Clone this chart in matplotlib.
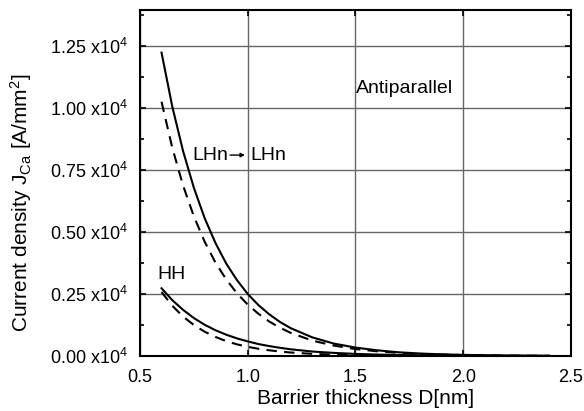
import matplotlib
matplotlib.use("Agg")
import matplotlib.pyplot as plt
from matplotlib.ticker import MultipleLocator, FuncFormatter

plt.rcParams['font.family'] = ['Liberation Sans', 'DejaVu Sans']
plt.rcParams['mathtext.fontset'] = 'custom'
plt.rcParams['mathtext.rm'] = 'Liberation Sans'
plt.rcParams['mathtext.it'] = 'Liberation Sans'
plt.rcParams['mathtext.default'] = 'regular'

# barrier thickness (nm)
D = [0.60, 0.65, 0.70, 0.75, 0.80, 0.85, 0.90, 0.95, 1.00, 1.05, 1.10, 1.15,
     1.20, 1.30, 1.40, 1.50, 1.60, 1.70, 1.80, 1.90, 2.00, 2.10, 2.20, 2.30, 2.40]

# current density in units of 1e4 A/mm^2
lhn_solid = [1.223, 1.005, 0.826, 0.678, 0.556, 0.456, 0.373, 0.306, 0.25, 0.205, 0.168, 0.137,
             0.112, 0.075, 0.050, 0.034, 0.023, 0.015, 0.010, 0.0068, 0.0046, 0.0031, 0.0021, 0.0014, 0.0009]
lhn_dash = [1.025, 0.839, 0.687, 0.563, 0.461, 0.377, 0.309, 0.253, 0.207, 0.170, 0.139, 0.114,
            0.093, 0.062, 0.042, 0.028, 0.019, 0.0126, 0.0085, 0.0057, 0.0038, 0.0025, 0.0017, 0.0011, 0.0008]
hh_solid = [0.273, 0.225, 0.186, 0.153, 0.126, 0.104, 0.086, 0.071, 0.059, 0.048, 0.040, 0.033,
            0.027, 0.018, 0.0125, 0.0085, 0.0058, 0.004, 0.0027, 0.0018, 0.0012, 0.0008, 0.0006, 0.0004, 0.0003]
hh_dash = [0.258, 0.2025, 0.159, 0.125, 0.098, 0.077, 0.060, 0.047, 0.037, 0.029, 0.023, 0.018,
           0.014, 0.0087, 0.0054, 0.0033, 0.002, 0.0013, 0.0008, 0.0005, 0.0003, 0.0002, 0.0001, 0.0001, 0.0001]

fig = plt.figure(figsize=(5.84, 4.11), dpi=100)
ax = fig.add_axes([0.2397, 0.1338, 0.738, 0.842])

dash = (0, (5, 3.5))
ax.plot(D, lhn_solid, color='black', lw=1.5)
ax.plot(D, lhn_dash, color='black', lw=1.5, linestyle=dash)
ax.plot(D, hh_solid, color='black', lw=1.5)
ax.plot(D, hh_dash, color='black', lw=1.5, linestyle=dash)

ax.set_xlim(0.5, 2.5)
ax.set_ylim(0, 1.395)
ax.xaxis.set_major_locator(MultipleLocator(0.5))
ax.yaxis.set_major_locator(MultipleLocator(0.25))
ax.yaxis.set_minor_locator(MultipleLocator(0.125))
ax.xaxis.set_major_formatter(FuncFormatter(lambda v, p: '%.1f' % v))
ax.yaxis.set_major_formatter(FuncFormatter(lambda v, p: '%.2f x10$^{4}$' % v))

ax.grid(True, which='major', color='#666666', lw=1.0)
ax.tick_params(which='both', direction='in', top=True, right=True, labelsize=13, width=1.2)
ax.tick_params(which='major', length=4, pad=9)
ax.tick_params(which='minor', length=3)
for s in ax.spines.values():
    s.set_linewidth(1.5)

ax.set_xlabel('Barrier thickness D[nm]', fontsize=15)
ax.set_ylabel('Current density J$_{Ca}$ [A/mm$^{2}$]', fontsize=15)
ax.xaxis.set_label_coords(0.524, -0.094)
ax.yaxis.set_label_coords(-0.246, 0.442)

ax.text(1.5, 1.08, 'Antiparallel', fontsize=14, va='center', ha='left')
ax.text(0.744, 0.81, 'LHn', fontsize=14, va='center', ha='left')
ax.text(1.010, 0.81, 'LHn', fontsize=14, va='center', ha='left')
ax.annotate('', xy=(1.0, 0.81), xytext=(0.905, 0.81),
            arrowprops=dict(arrowstyle='-|>', color='black', lw=1.0, mutation_scale=6))
ax.text(0.580, 0.327, 'HH', fontsize=14, va='center', ha='left')

fig.savefig('out.png', dpi=100)
